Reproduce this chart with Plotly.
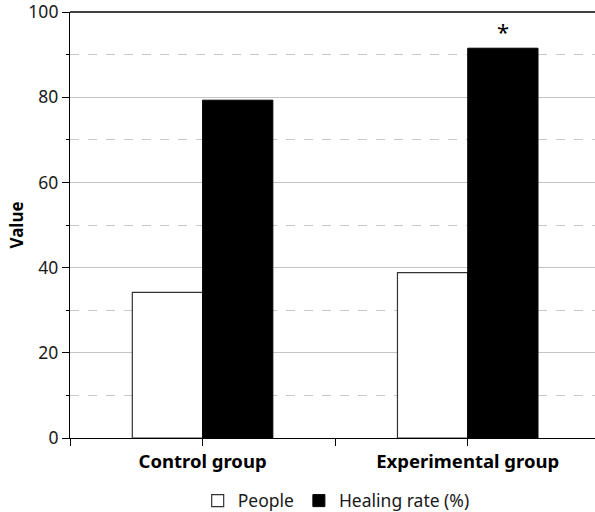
import plotly.graph_objects as go

categories = ["Control group", "Experimental group"]
people = [34.2, 38.8]
healing = [79.3, 91.5]
y_ticks = [0, 20, 40, 60, 80, 100]

bw = 0.265
xpos = list(range(len(categories)))
font = "Noto Sans"

fig = go.Figure()
fig.add_trace(go.Bar(
    x=xpos, y=people, name="People", width=bw, offset=-bw,
    marker=dict(color="white", line=dict(color="#333333", width=1.2)),
))
fig.add_trace(go.Bar(
    x=xpos, y=healing, name="Healing rate (%)", width=bw, offset=0,
    marker=dict(color="black", line=dict(color="black", width=1)),
))

fig.add_annotation(x=xpos[1] + bw / 2, y=healing[1], text="*", showarrow=False,
                   yanchor="bottom", yshift=0, font=dict(size=22, color="black", family=font))

fig.add_shape(type="line", xref="paper", yref="paper", x0=0, x1=1, y0=1, y1=1,
              line=dict(color="black", width=1.5))

fig.update_layout(
    width=595, height=512,
    margin=dict(l=70, r=0, t=12, b=74),
    paper_bgcolor="white", plot_bgcolor="white",
    font=dict(family=font, size=17, color="#1a1a1a"),
    showlegend=True,
    legend=dict(orientation="h", x=0.507, xanchor="center",
                yref="container", y=0.022, yanchor="middle",
                font=dict(size=17.5, color="#1a1a1a"), traceorder="normal",
                itemwidth=30, tracegroupgap=0),
    xaxis=dict(
        range=[-0.5, 1.48],
        tickvals=[-0.5, 0, 0.5, 1],
        ticktext=["", "<b>" + categories[0] + "</b>", "", "<b>" + categories[1] + "</b>"],
        ticks="outside", ticklen=7, tickcolor="black", tickwidth=1,
        showline=True, linecolor="black", linewidth=1.2,
        showgrid=False, zeroline=False, automargin=False,
        ticklabelstandoff=0, ticklabeloverflow="allow",
        tickfont=dict(size=18.5, color="black"),
    ),
    yaxis=dict(
        range=[0, 100], tickvals=y_ticks,
        ticks="outside", ticklen=7, tickcolor="black", tickwidth=1,
        showline=True, linecolor="black", linewidth=1.2,
        showgrid=True, gridcolor="#c4c4c4", gridwidth=1,
        zeroline=False, automargin=False, ticklabeloverflow="allow",
        minor=dict(dtick=10, showgrid=True, gridcolor="#c8c8c8", griddash="dash",
                   ticks="outside", ticklen=3, tickcolor="black"),
        title=dict(text="<b>Value</b>", standoff=0, font=dict(size=17, color="black")),
        tickfont=dict(size=17.5, color="#1a1a1a"),
    ),
)

fig.write_html("out.html", config={"displayModeBar": False},
               post_script="document.body.style.margin='0';")
